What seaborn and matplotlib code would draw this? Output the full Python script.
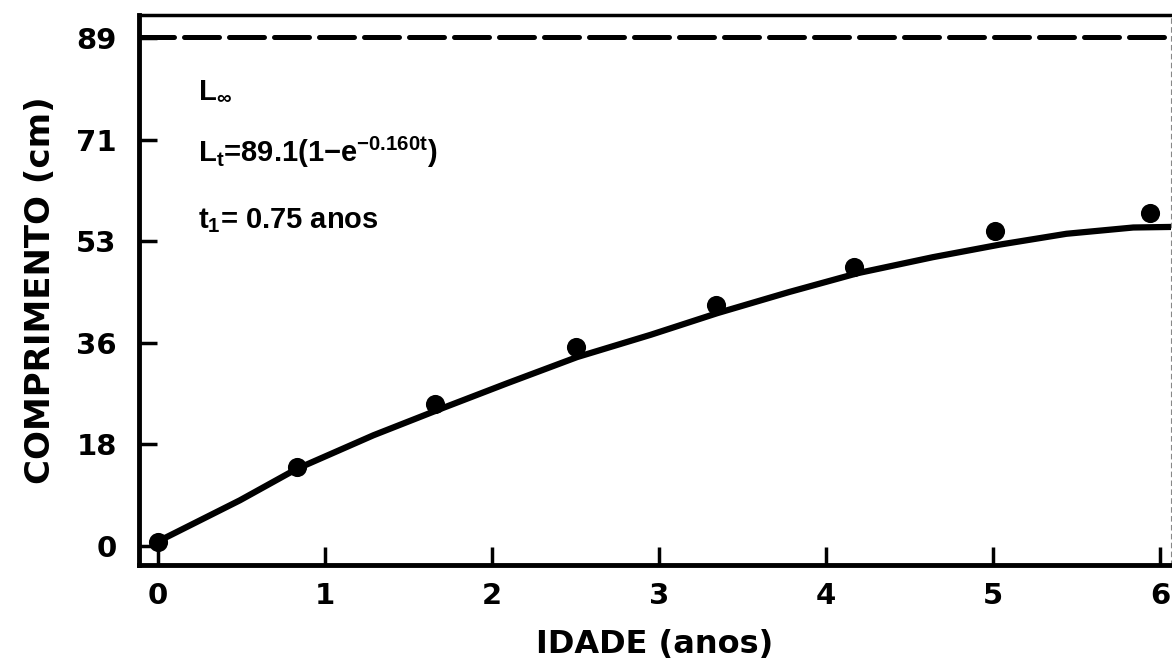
import matplotlib
matplotlib.use("Agg")
import matplotlib.pyplot as plt
import seaborn as sns
import pandas as pd

# --- data ---
idade = [0.0, 0.83, 1.66, 2.50, 3.34, 4.17, 5.01, 5.94]
comprimento = [0.7, 13.8, 24.9, 34.9, 42.2, 48.9, 55.2, 58.3]

# fitted growth curve as drawn
curva_t = [0.0, 0.49, 0.83, 1.29, 1.69, 2.09, 2.51, 2.95, 3.35, 3.78, 4.19, 4.64, 5.04, 5.44, 5.84, 6.07]
curva_l = [0.8, 8.0, 13.5, 19.4, 24.0, 28.5, 33.1, 37.0, 40.8, 44.5, 47.8, 50.6, 52.8, 54.7, 55.8, 55.9]

l_inf = 89.1
y_ticks = [0, 17.8, 35.6, 53.4, 71.2, 89.0]
y_labels = ["0", "18", "36", "53", "71", "89"]
x_ticks = [0, 1, 2, 3, 4, 5, 6]
x_labels = ["0", "1", "2", "3", "4", "5", "6"]

sns.set_style("white")
plt.rcParams["font.family"] = ["DejaVu Sans"]
plt.rcParams["font.weight"] = "bold"
plt.rcParams["text.color"] = "black"
plt.rcParams["axes.labelcolor"] = "black"
plt.rcParams["mathtext.fontset"] = "custom"
plt.rcParams["mathtext.rm"] = "Liberation Sans:bold"
plt.rcParams["mathtext.it"] = "Liberation Sans:bold"
plt.rcParams["mathtext.bf"] = "Liberation Sans:bold"
plt.rcParams["mathtext.default"] = "bf"

fig = plt.figure(figsize=(11.72, 6.63), dpi=100)
ax = fig.add_axes([139 / 1172, 98 / 663, 1032 / 1172, 550 / 663])

df_pts = pd.DataFrame({"idade": idade, "comprimento": comprimento})
df_curve = pd.DataFrame({"t": curva_t, "L": curva_l})

sns.lineplot(data=df_curve, x="t", y="L", ax=ax, color="black", lw=4.5,
             solid_capstyle="round", solid_joinstyle="round", sort=False)
sns.scatterplot(data=df_pts, x="idade", y="comprimento", ax=ax, color="black",
                s=190, edgecolor="black", linewidth=0, zorder=5)

ax.axhline(l_inf, color="black", lw=3.6, dashes=(7, 2), dash_capstyle="round")

ax.set_xlim(-0.114, 6.066)
ax.set_ylim(-3.33, 93.03)

ax.set_xticks(x_ticks)
ax.set_xticklabels(x_labels)
ax.set_yticks(y_ticks)
ax.set_yticklabels(y_labels)
ax.tick_params(axis="both", direction="in", length=13, width=2.5, color="black",
               labelsize=21, labelcolor="black", bottom=True, left=True)
ax.tick_params(axis="y", pad=16)
ax.tick_params(axis="x", pad=12)
for lab in ax.get_xticklabels() + ax.get_yticklabels():
    lab.set_fontweight("bold")

for side in ["left", "bottom"]:
    ax.spines[side].set_linewidth(3.5)
    ax.spines[side].set_color("black")
ax.spines["top"].set_linewidth(2.5)
ax.spines["top"].set_color("black")
ax.spines["right"].set_linewidth(0.8)
ax.spines["right"].set_color("#888888")
ax.spines["right"].set_linestyle((0, (4, 4)))

ax.set_xlabel("IDADE (anos)", fontsize=23, fontweight="bold", labelpad=14, color="black")
ax.set_ylabel("COMPRIMENTO (cm)", fontsize=24.5, fontweight="bold", labelpad=14, color="black")

txt_kw = dict(fontsize=21, fontweight="bold", family="Liberation Sans", va="baseline",
              ha="left", color="black")
ax.text(0.24, 78.5, r"L$_{\infty}$", **txt_kw)
ax.text(0.24, 67.3, r"L$_{t}$=89.1(1$-$e$^{-0.160t}$)", **txt_kw)
ax.text(0.24, 55.7, r"t$_{1}$= 0.75 anos", **txt_kw)

fig.savefig("out.png", dpi=100)
